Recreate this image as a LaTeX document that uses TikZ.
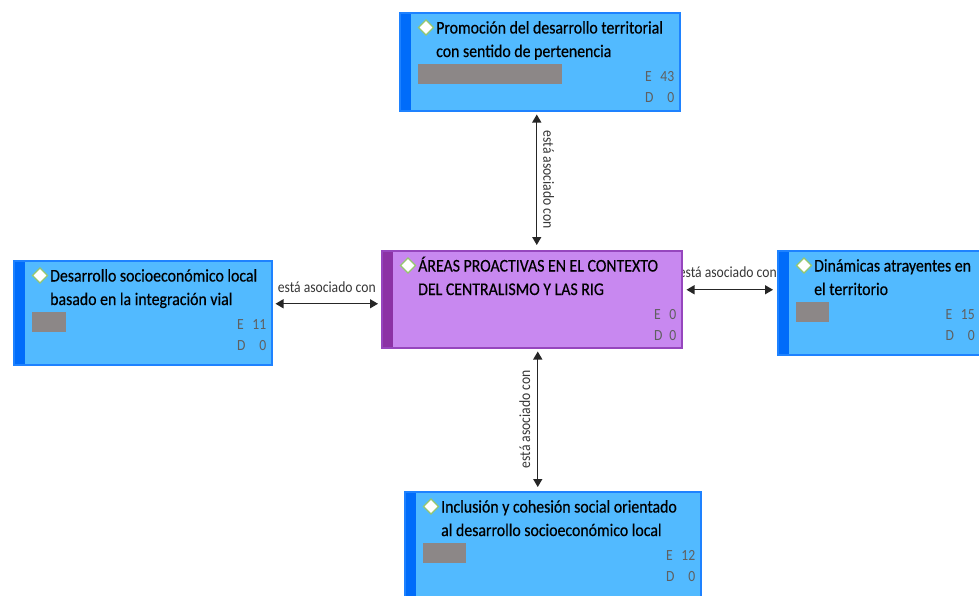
\documentclass[tikz,border=0pt]{standalone}
\usepackage{fontspec}
\setmainfont{Carlito}
\newfontfamily\condf[FakeStretch=0.89,FakeBold=0.4]{Carlito}
\newfontfamily\condl[FakeStretch=0.88]{Carlito}
\usetikzlibrary{arrows.meta,calc,backgrounds}
\definecolor{bfill}{RGB}{82,186,255}
\definecolor{bstrip}{RGB}{0,108,250}
\definecolor{bline}{RGB}{30,130,255}
\definecolor{pfill}{RGB}{200,136,240}
\definecolor{pstrip}{RGB}{140,50,165}
\definecolor{pline}{RGB}{150,70,190}
\definecolor{gbar}{RGB}{140,135,135}
\definecolor{dgreen}{RGB}{150,200,110}
\definecolor{numcol}{RGB}{95,95,95}
\definecolor{lblcol}{RGB}{55,55,55}
\newcommand\boxtitle[3]{%
  \node[ttl] (#1-t1) at ($(#1.north west)+(37,21.5)$) {#2};
  \node[ttl] (#1-t2) at ($(#1.north west)+(37,45)$) {#3};
  \node[dmd] (#1-d) at ($(#1.north west)+(27,15.5)$) {};}
\newcommand\boxcount[3]{%
  \node[cnts] (#1-c) at ($(#1.north east)+(-6,69)$)
    {\begin{tabular}[t]{@{}l@{\hspace{7pt}}r@{}}E&#2\\D&#3\end{tabular}};}
\newcommand\boxbar[2]{%
  \fill[gbar] ($(#1.north west)+(19,52)$) rectangle +(#2,20);}
\begin{document}
\begin{tikzpicture}[x=1pt,y=-1pt,
  bbox/.style={draw=bline, fill=bfill, line width=1.5pt, rectangle, inner sep=0pt, anchor=north west,
    path picture={\fill[bstrip] (path picture bounding box.north west) rectangle ([xshift=11pt]path picture bounding box.south west);}},
  pbox/.style={bbox, draw=pline, fill=pfill,
    path picture={\fill[pstrip] (path picture bounding box.north west) rectangle ([xshift=11pt]path picture bounding box.south west);}},
  ttl/.style={anchor=base west, inner sep=0pt, font=\condf\fontsize{17.8}{19}\selectfont, text=black},
  dmd/.style={rectangle, rotate=45, minimum size=10.5pt, inner sep=0pt, draw=dgreen, fill=white, line width=1.2pt},
  cnts/.style={anchor=base east, inner sep=0pt, font=\condl\fontsize{15.5}{21}\selectfont, text=numcol},
  lbl/.style={inner sep=0pt, font=\condl\fontsize{15.5}{16}\selectfont, text=lblcol},
  conn/.style={{Triangle[length=8pt,width=9pt]}-{Triangle[length=8pt,width=9pt]}, line width=1.3pt, draw=black!85}]
\useasboundingbox (0,0) rectangle (979,595);
\clip (0,0) rectangle (979,595);
% boxes
\node[bbox, minimum width=280pt, minimum height=98pt] (top) at (399,12) {};
\node[pbox, minimum width=300pt, minimum height=97pt] (ctr) at (381,250) {};
\node[bbox, minimum width=258pt, minimum height=104pt] (lft) at (13,260) {};
\node[bbox, minimum width=210pt, minimum height=104pt] (rgt) at (777,250) {};
\node[bbox, minimum width=296pt, minimum height=110pt] (bot) at (404,491) {};
% contents
\boxtitle{top}{Promoción del desarrollo territorial}{con sentido de pertenencia}
\boxbar{top}{144}
\boxcount{top}{43}{0}
\boxtitle{ctr}{ÁREAS PROACTIVAS EN EL CONTEXTO}{DEL CENTRALISMO Y LAS RIG}
\boxcount{ctr}{0}{0}
\boxtitle{lft}{Desarrollo socioeconómico local}{basado en la integración vial}
\boxbar{lft}{34}
\boxcount{lft}{11}{0}
\boxtitle{rgt}{Dinámicas atrayentes en}{el territorio}
\boxbar{rgt}{33}
\node[cnts] (rgt-c) at (975,319) {\begin{tabular}[t]{@{}l@{\hspace{7pt}}r@{}}E&15\\D&0\end{tabular}};
\boxtitle{bot}{Inclusión y cohesión social orientado}{al desarrollo socioeconómico local}
\boxbar{bot}{43}
\boxcount{bot}{12}{0}
% connectors
\begin{pgfonlayer}{background}
\fill[white] (0,0) rectangle (979,595);
\draw[conn] ($(top.south)+(-3,3)$) coordinate (a1) -- ($(ctr.north)+(5,-5)$) coordinate (a2);
\node[lbl, rotate=-90] (l1) at ($(a1)!0.5!(a2)+(12,0)$) {está asociado con};
\draw[conn] ($(ctr.south)+(6,3)$) coordinate (b1) -- ($(bot.north)+(-15,-4)$) coordinate (b2);
\node[lbl, rotate=90] (l2) at ($(b1)!0.5!(b2)+(-13,0)$) {está asociado con};
\draw[conn] ($(lft.east)+(3,-9)$) coordinate (c1) -- ($(ctr.west)+(-3,4.5)$) coordinate (c2);
\node[lbl] (l3) at ($(c1)!0.5!(c2)+(0,-17)$) {está asociado con};
\draw[conn] ($(ctr.east)+(4,-9.5)$) coordinate (d1) -- ($(rgt.west)+(-4,-13)$) coordinate (d2);
\node[lbl] (l4) at ($(d1)!0.5!(d2)+(-2,-18)$) {está asociado con};
\end{pgfonlayer}
\end{tikzpicture}
\end{document}
